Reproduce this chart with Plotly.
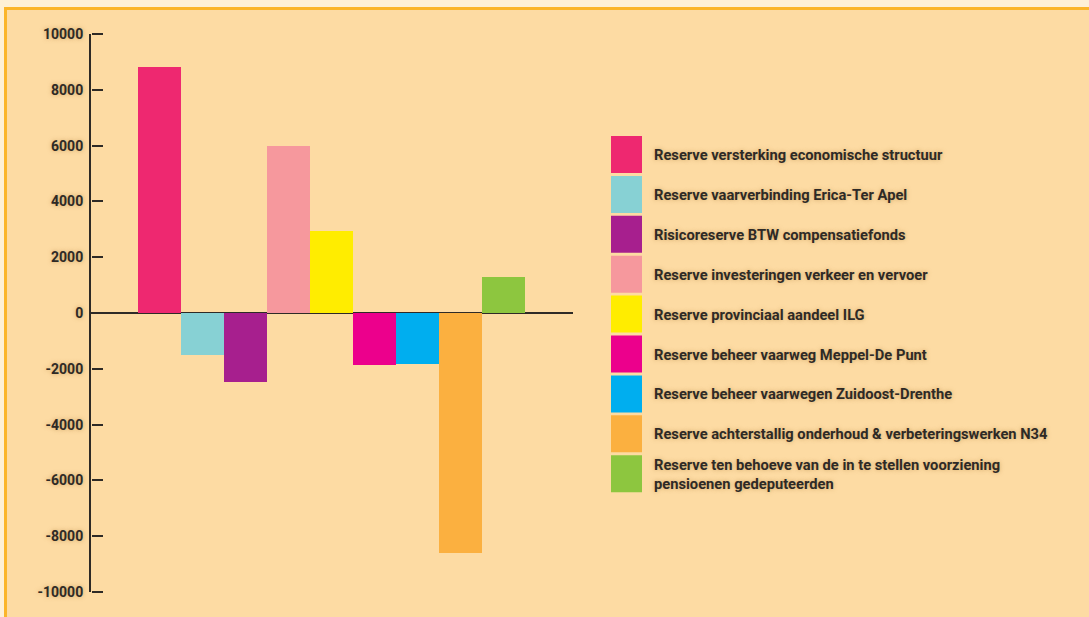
import plotly.graph_objects as go

# ---- data ----
categories = [
    "Reserve versterking economische structuur",
    "Reserve vaarverbinding Erica-Ter Apel",
    "Risicoreserve BTW compensatiefonds",
    "Reserve investeringen verkeer en vervoer",
    "Reserve provinciaal aandeel ILG",
    "Reserve beheer vaarweg Meppel-De Punt",
    "Reserve beheer vaarwegen Zuidoost-Drenthe",
    "Reserve achterstallig onderhoud & verbeteringswerken N34",
    "Reserve ten behoeve van de in te stellen voorziening<br>pensioenen gedeputeerden",
]
values = [8830, -1490, -2490, 5980, 2950, -1850, -1810, -8600, 1300]
colors = ["#EE2870", "#87D1D4", "#A71F8E", "#F6989D", "#FFED00",
          "#EC008C", "#00AEEF", "#FBB040", "#8DC63F"]
tick_vals = [10000, 8000, 6000, 4000, 2000, 0, -2000, -4000, -6000, -8000, -10000]
tick_text = ["10000", "8000", "6000", "4000", "2000", "0",
             "-2000", "-4000", "-6000", "-8000", "-10000"]

# ---- layout geometry (pixels) ----
W, H = 1089, 617
L, R, T, B = 91, 516, 34, 25
PW, PH = W - L - R, H - T - B

def px(x):
    return (x - L) / PW

def py(y):
    return (H - B - y) / PH

ink = "#2E2A26"
bg = "#FDDBA3"
cream = "#FEF0D6"
frame = "#FBB52A"
shadow = "0px 0px 4px rgba(170,120,50,0.55)"
font_family = "Roboto"

fig = go.Figure()
fig.add_trace(go.Bar(
    x=list(range(len(values))),
    y=values,
    width=1,
    marker=dict(color=colors, line=dict(width=0)),
    showlegend=False,
))

shapes = [
    # outer cream strips and orange frame
    dict(type="rect", xref="paper", yref="paper", x0=px(0), x1=px(W), y0=py(0), y1=py(7),
         fillcolor=cream, line=dict(width=0), layer="below"),
    dict(type="rect", xref="paper", yref="paper", x0=px(0), x1=px(4), y0=py(0), y1=py(H),
         fillcolor=cream, line=dict(width=0), layer="below"),
    dict(type="rect", xref="paper", yref="paper", x0=px(4), x1=px(W), y0=py(7), y1=py(10),
         fillcolor=frame, line=dict(width=0), layer="below"),
    dict(type="rect", xref="paper", yref="paper", x0=px(4), x1=px(7), y0=py(7), y1=py(H),
         fillcolor=frame, line=dict(width=0), layer="below"),
]

annotations = []
row_top0, pitch, sw_h = 136, 39.9, 37
for i, (lab, col) in enumerate(zip(categories, colors)):
    top = row_top0 + i * pitch
    shapes.append(dict(type="rect", xref="paper", yref="paper",
                       x0=px(611), x1=px(642), y0=py(top + sw_h), y1=py(top),
                       fillcolor=col, line=dict(width=0)))
    annotations.append(dict(
        xref="paper", yref="paper", x=px(652), y=py(top + sw_h / 2 + 0.5),
        xanchor="left", yanchor="middle", align="left", showarrow=False,
        text="<b>" + lab.replace("<br>", "</b><br><b>") + "</b>",
        font=dict(family=font_family, size=14.7, color=ink, shadow=shadow),
    ))

fig.update_layout(
    width=W, height=H,
    margin=dict(l=L, r=R, t=T, b=B, pad=0),
    paper_bgcolor=bg,
    plot_bgcolor="rgba(0,0,0,0)",
    bargap=0,
    showlegend=False,
    xaxis=dict(visible=False, range=[-1.593, 9.616], fixedrange=True),
    yaxis=dict(
        range=[-10000, 10000],
        tickvals=tick_vals, ticktext=tick_text,
        showgrid=False,
        showline=True, linecolor=ink, linewidth=2,
        ticks="",
        zeroline=True, zerolinecolor=ink, zerolinewidth=2,
        ticklabelstandoff=3,
        tickfont=dict(family=font_family, size=14, color=ink, weight="bold", shadow=shadow),
    ),
    yaxis2=dict(
        overlaying="y", matches="y", side="right", anchor="free", position=0,
        range=[-10000, 10000], tickvals=tick_vals,
        showticklabels=False, showgrid=False, zeroline=False, showline=False,
        ticks="outside", ticklen=11, tickwidth=2, tickcolor=ink,
    ),
    shapes=shapes,
    annotations=annotations,
)
# invisible anchor trace for the tick-only axis
fig.add_trace(go.Scatter(x=[None], y=[None], yaxis="y2", showlegend=False, hoverinfo="skip"))

fig.write_html("out.html", config={"displayModeBar": False},
               post_script="document.body.style.margin='0';document.body.style.padding='0';")
